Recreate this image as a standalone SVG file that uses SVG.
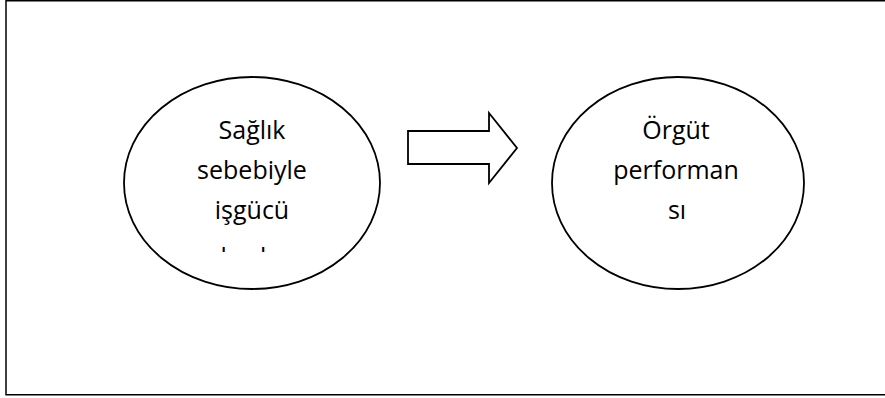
<svg xmlns="http://www.w3.org/2000/svg" width="885" height="398" viewBox="0 0 885 398">
<style>
.frame{fill:#fff;stroke:#000;stroke-width:1.5}
.node{fill:#fff;stroke:#000;stroke-width:1.8}
.lbl{font-family:"Open Sans","Noto Sans",sans-serif;font-size:25px;fill:#000;text-anchor:middle}
</style>
<defs>
<clipPath id="clipL"><rect x="120" y="60" width="270" height="192"/></clipPath>
</defs>
<rect width="885" height="398" fill="#fff"/>
<rect class="frame" x="6" y="0.75" width="890" height="394"/>
<g id="node-health">
<ellipse class="node" cx="252" cy="183" rx="128" ry="106"/>
<g clip-path="url(#clipL)">
<text class="lbl" x="252" y="139">Sağlık</text>
<text class="lbl" x="252" y="179">sebebiyle</text>
<text class="lbl" x="252" y="219">işgücü</text>
<text class="lbl" x="251" y="266">kaybı</text>
</g>
</g>
<g id="node-performance">
<ellipse class="node" cx="678" cy="183" rx="126" ry="106"/>
<text class="lbl" x="676" y="139">Örgüt</text>
<text class="lbl" x="676" y="179">performan</text>
<text class="lbl" x="677" y="219">sı</text>
</g>
<g id="connectors">
<path class="node" d="M408,131 L489,131 L489,113 L517,148 L489,183 L489,164 L408,164 Z"/>
</g>
</svg>
